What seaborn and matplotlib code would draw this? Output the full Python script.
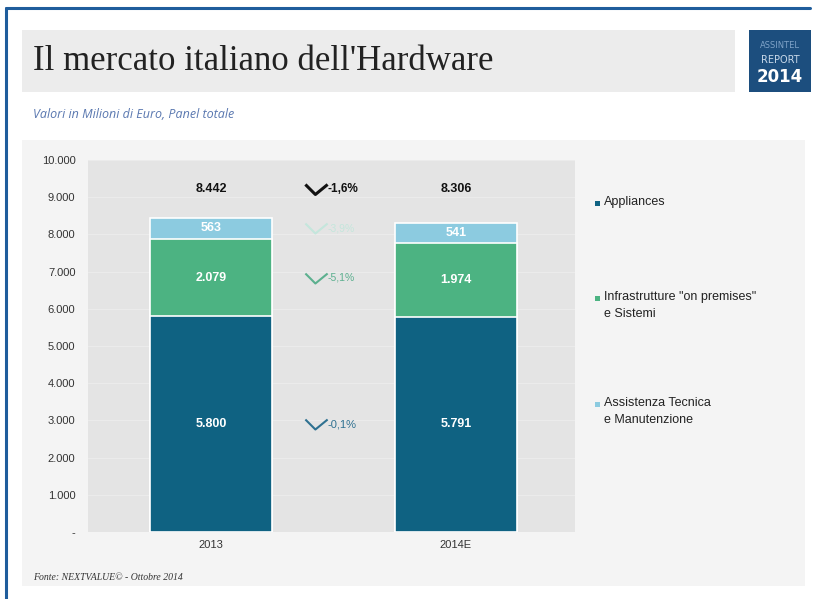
import matplotlib
matplotlib.use("Agg")
import matplotlib.pyplot as plt
from matplotlib.patches import Rectangle
from matplotlib.lines import Line2D
from matplotlib.path import Path
import seaborn as sns
import pandas as pd

# ---------------- data ----------------
years = ["2013", "2014E"]
appliances = [5800, 5791]
infrastrutture = [2079, 1974]
assistenza = [563, 541]
totals = [8442, 8306]
pct_labels = ["-1,6%", "-3,9%", "-5,1%", "-0,1%"]
series_names = ["Appliances", "Infrastrutture \"on premises\"\ne Sistemi",
                "Assistenza Tecnica\ne Manutenzione"]
yticks = list(range(0, 10001, 1000))

c_app = "#0f6282"
c_inf = "#4cb382"
c_ass = "#8ccbe0"

sns.set_theme(style="white")
plt.rcParams['font.family'] = ['DejaVu Sans']

W, H = 819, 599
fig = plt.figure(figsize=(W / 100, H / 100), dpi=100)
fig.patch.set_facecolor("white")

def fx(px):
    return px / W

def fy(py):
    return 1 - py / H

# outer blue border (top and left visible)
fig.add_artist(Line2D([fx(6), fx(810)], [fy(8), fy(8)], transform=fig.transFigure,
                      color="#1f5d9c", linewidth=2.2))
fig.add_artist(Line2D([fx(6), fx(6)], [fy(8), fy(600)], transform=fig.transFigure,
                      color="#1f5d9c", linewidth=2.2))
# light panel
fig.add_artist(Rectangle((fx(22), fy(586)), fx(805 - 22), fy(140) - fy(586), transform=fig.transFigure,
                         facecolor="#f4f4f4", edgecolor="none", zorder=0))
# title band
fig.add_artist(Rectangle((fx(22), fy(92)), fx(735 - 22), fy(30) - fy(92), transform=fig.transFigure,
                         facecolor="#ececec", edgecolor="none", zorder=0))
fig.text(fx(33), fy(62), "Il mercato italiano dell'Hardware", family="Liberation Serif",
         fontsize=25, color="#222222", va="center", ha="left")
# logo
fig.add_artist(Rectangle((fx(749), fy(92)), fx(62), fy(30) - fy(92), transform=fig.transFigure,
                         facecolor="#1c4e7e", edgecolor="none"))
fig.text(fx(780), fy(46), "ASSINTEL", color="#7fa3c8", fontsize=6, ha="center", va="center",
         family="Liberation Sans Narrow")
fig.text(fx(780), fy(60), "REPORT", color="#c9d9ea", fontsize=7, ha="center", va="center",
         family="Liberation Sans Narrow")
fig.text(fx(780), fy(77), "2014", color="white", fontsize=12, ha="center", va="center",
         weight="bold", family="Liberation Sans Narrow")

fig.text(fx(33), fy(115), "Valori in Milioni di Euro, Panel totale", color="#5a78b0",
         fontsize=9, style="italic", va="center", ha="left", family="Open Sans")

fig.text(fx(33), fy(577), "Fonte: NEXTVALUE\u00a9 - Ottobre 2014", color="#333333",
         fontsize=7, style="italic", va="center", ha="left", family="Liberation Serif")

# ---------------- axes ----------------
ax = fig.add_axes([fx(88), fy(532), fx(575 - 88), fy(160) - fy(532)])
ax.set_facecolor("#e4e4e4")

df = pd.DataFrame({"year": years, "app": appliances, "inf": infrastrutture, "ass": assistenza})
df["app_inf"] = df["app"] + df["inf"]
df["all"] = df["app_inf"] + df["ass"]

kw = dict(width=0.5, edgecolor="white", linewidth=1.2, saturation=1, zorder=3)
sns.barplot(data=df, x="year", y="all", color=c_ass, ax=ax, **kw)
sns.barplot(data=df, x="year", y="app_inf", color=c_inf, ax=ax, **kw)
sns.barplot(data=df, x="year", y="app", color=c_app, ax=ax, **kw)

ax.set_xlim(-0.502, 1.486)
ax.set_ylim(0, 10000)
ax.set_yticks(yticks)
ax.set_yticklabels(["-" if v == 0 else f"{v:,}".replace(",", ".") for v in yticks],
                   fontsize=8, color="#333333", family="Liberation Sans")
ax.set_xticks(range(len(years)))
ax.set_xticklabels(years, family="Liberation Sans")
ax.set_xlabel("")
ax.set_ylabel("")
ax.tick_params(axis="x", labelsize=8, colors="#333333", pad=6, length=0)
ax.tick_params(axis="y", length=0, pad=9)
for s in ax.spines.values():
    s.set_visible(False)
ax.grid(axis="y", color="#ebebeb", linewidth=0.8, zorder=0)
ax.set_axisbelow(True)

# segment value labels
lf = dict(fontsize=9, weight="bold", ha="center", va="center", zorder=5, family="Liberation Sans")
for i in range(len(years)):
    ax.text(i, appliances[i] / 2, f"{appliances[i]:,}".replace(",", "."), color="white", **lf)
    ax.text(i, appliances[i] + infrastrutture[i] / 2, f"{infrastrutture[i]:,}".replace(",", "."),
            color="white", **lf)
    ax.text(i, appliances[i] + infrastrutture[i] + assistenza[i] / 2, f"{assistenza[i]}",
            color="white", **lf)
    ax.text(i, 9220, f"{totals[i]:,}".replace(",", "."), color="#111111", **lf)

# change annotations
chev = Path([(-1, 0.45), (-0.1, -0.45), (1, 0.45)], [Path.MOVETO, Path.LINETO, Path.LINETO])
pct_y = [9220, appliances[0] + infrastrutture[0] + assistenza[0] / 2,
         appliances[0] + infrastrutture[0] / 2, appliances[0] / 2]
pct_colors = ["#111111", "#c4e6dc", "#5cb08f", "#2f7191"]
pct_sizes = [8.5, 7.5, 7.5, 8]
pct_weights = ["bold", "normal", "normal", "normal"]
for lab, yv, col, fs, fw in zip(pct_labels, pct_y, pct_colors, pct_sizes, pct_weights):
    ax.plot([0.43], [yv], marker=chev, markersize=16, markerfacecolor="none",
            markeredgecolor=col, markeredgewidth=2.2 if fw == "bold" else 1.5,
            linestyle="none", zorder=5, clip_on=False)
    ax.text(0.475, yv, lab, color=col, fontsize=fs, weight=fw, ha="left", va="center", zorder=5,
            family="Liberation Sans")

# legend
leg_items = [(series_names[0], c_app, 203), (series_names[1], c_inf, 298), (series_names[2], c_ass, 404)]
for name, col, py in leg_items:
    fig.add_artist(Rectangle((fx(595), fy(py + 2.5)), fx(5), fy(py - 2.5) - fy(py + 2.5),
                             transform=fig.transFigure, facecolor=col, edgecolor="none"))
    fig.text(fx(604), fy(py - 7.5), name, fontsize=9, color="#222222", ha="left", va="top",
             linespacing=1.6, family="Liberation Sans")

fig.savefig("out.png", dpi=100, facecolor=fig.get_facecolor())
